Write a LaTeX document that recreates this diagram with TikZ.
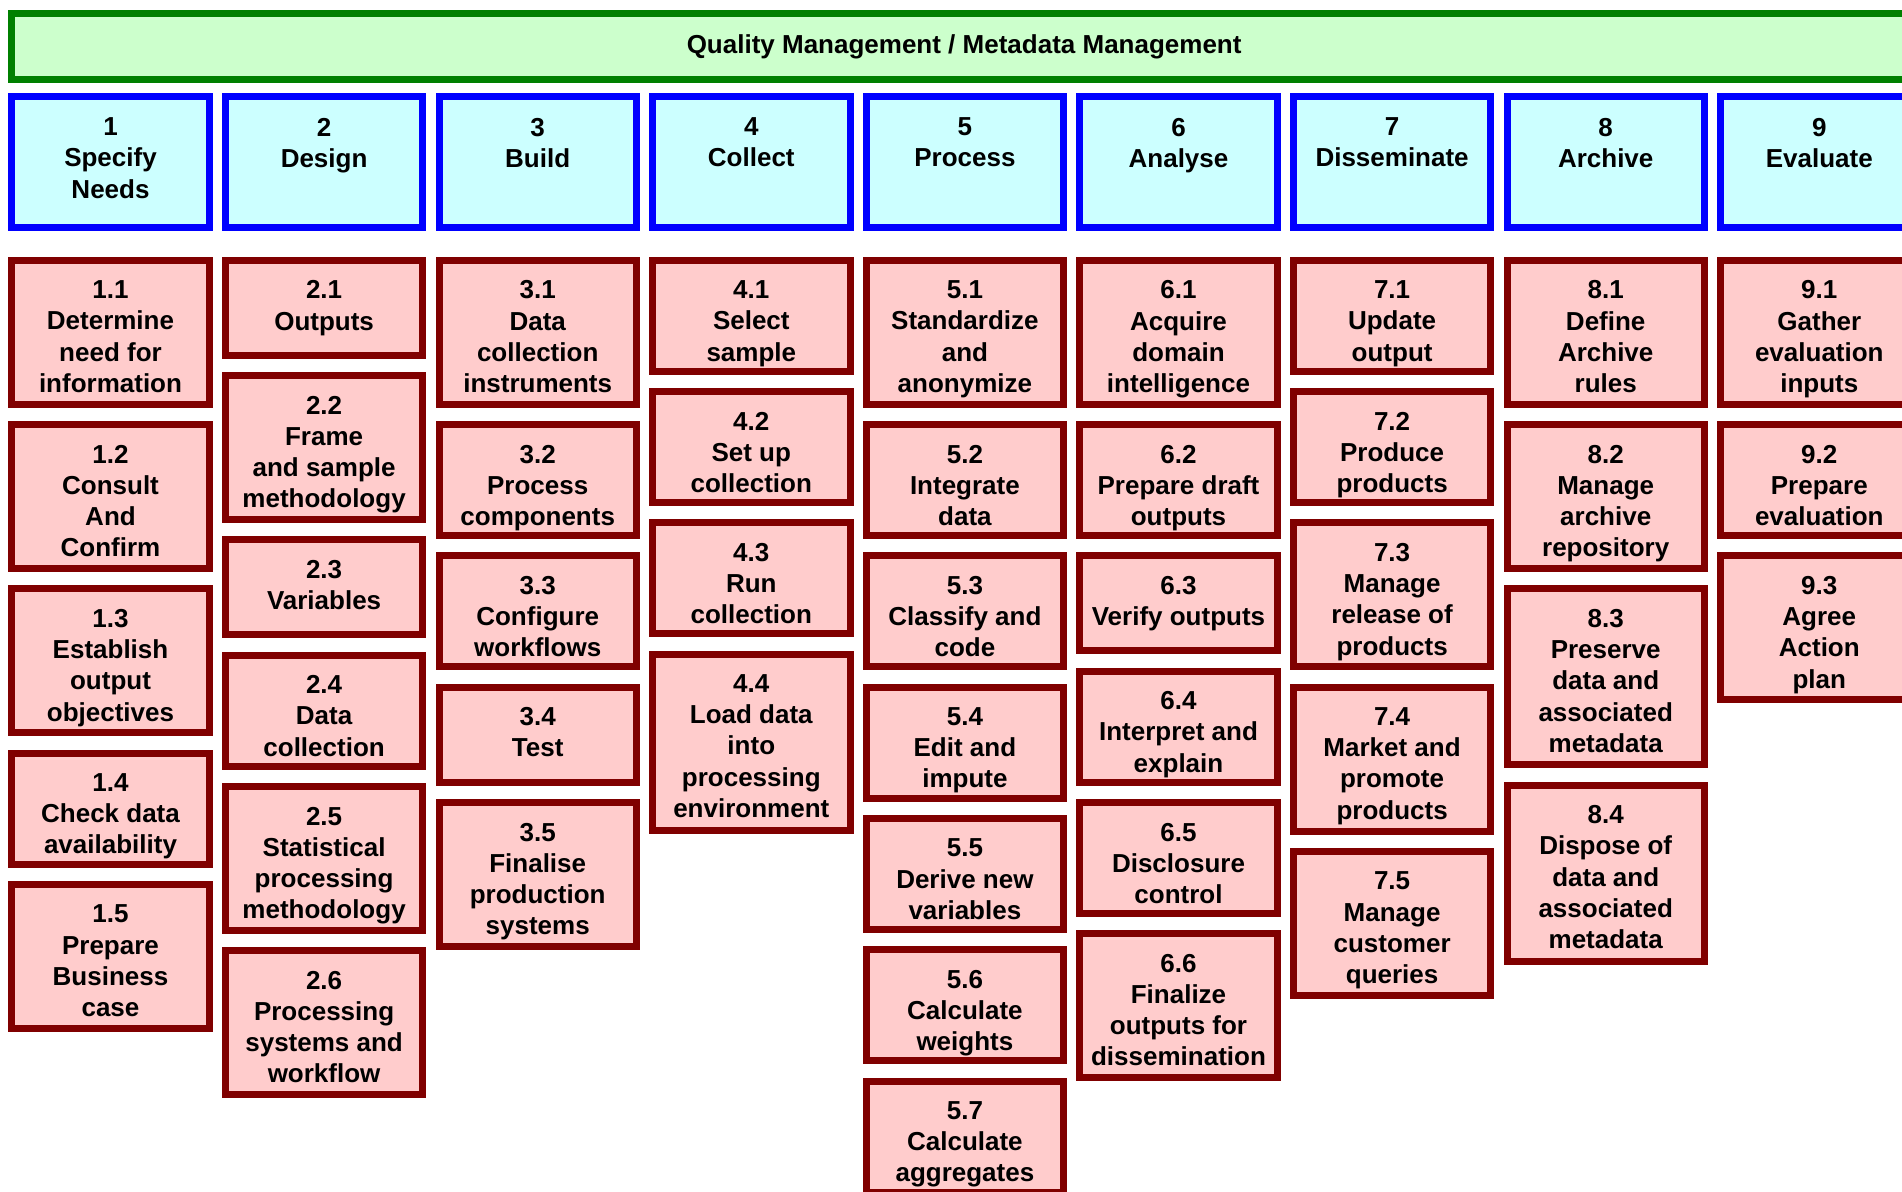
\documentclass[tikz,border=0pt]{standalone}
\usepackage{fontspec}
\setmainfont{Liberation Sans}
\usepackage{tikz}
\usetikzlibrary{positioning}

\definecolor{barfill}{HTML}{CCFFCC}
\definecolor{barline}{HTML}{008000}
\definecolor{phasefill}{HTML}{CCFFFF}
\definecolor{phaseline}{HTML}{0000FF}
\definecolor{subfill}{HTML}{FFCCCC}
\definecolor{subline}{HTML}{800000}

\begin{document}
\begin{tikzpicture}[x=0.5pt, y=-0.5pt,
    every node/.style={font=\fontsize{13}{15.6}\selectfont\bfseries, align=center, inner sep=0pt},
    txt/.style={anchor=north, yshift=-11.8pt},
    bar/.style={draw=barline, fill=barfill, line width=3.5pt, minimum width=952.35pt, minimum height=33pt},
    phase/.style={draw=phaseline, fill=phasefill, line width=3.5pt, minimum width=98.7pt, minimum height=65.5pt},
    subbox/.style={draw=subline, fill=subfill, line width=3.5pt, minimum width=98.7pt},
    sub2/.style={subbox, minimum height=47.5pt},
    sub3/.style={subbox, minimum height=55.5pt},
    sub4/.style={subbox, minimum height=72pt},
    sub5/.style={subbox, minimum height=88pt},
    node distance=6.65pt]

    \useasboundingbox (0,0) rectangle (1902,1191);
    \clip (0,0) rectangle (1902,1191);

    % Overarching process
    \node[bar, anchor=north west] (qm) at (8.3,10) {Quality Management / Metadata Management};

    % Phases
    \foreach \n/\name in {1/{Specify\\Needs}, 2/Design, 3/Build, 4/Collect,
        5/Process, 6/Analyse, 7/Disseminate, 8/Archive, 9/Evaluate} {
        \node[phase, anchor=north, label={[txt, yshift=-0.6pt]north:\n\\\name}] (p\n) at ({110.5+(\n-1)*213.6}, 92.7) {};
    }

    % 1 Specify Needs
    \node[sub4, below=13pt of p1, label={[txt]north:1.1\\Determine\\need for\\information}] (s11) {};
    \node[sub4, below=of s11, label={[txt]north:1.2\\Consult\\And\\Confirm}] (s12) {};
    \node[sub4, below=of s12, label={[txt]north:1.3\\Establish\\output\\objectives}] (s13) {};
    \node[sub3, below=of s13, label={[txt]north:1.4\\Check data\\availability}] (s14) {};
    \node[sub4, below=of s14, label={[txt]north:1.5\\Prepare\\Business\\case}] (s15) {};

    % 2 Design
    \node[sub2, below=13pt of p2, label={[txt]north:2.1\\Outputs}] (s21) {};
    \node[sub4, below=of s21, label={[txt]north:2.2\\Frame\\and sample\\methodology}] (s22) {};
    \node[sub2, below=of s22, label={[txt]north:2.3\\Variables}] (s23) {};
    \node[sub3, below=of s23, label={[txt]north:2.4\\Data\\collection}] (s24) {};
    \node[sub4, below=of s24, label={[txt]north:2.5\\Statistical\\processing\\methodology}] (s25) {};
    \node[sub4, below=of s25, label={[txt]north:2.6\\Processing\\systems and\\workflow}] (s26) {};

    % 3 Build
    \node[sub4, below=13pt of p3, label={[txt]north:3.1\\Data\\collection\\instruments}] (s31) {};
    \node[sub3, below=of s31, label={[txt]north:3.2\\Process\\components}] (s32) {};
    \node[sub3, below=of s32, label={[txt]north:3.3\\Configure\\workflows}] (s33) {};
    \node[sub2, below=of s33, label={[txt]north:3.4\\Test}] (s34) {};
    \node[sub4, below=of s34, label={[txt]north:3.5\\Finalise\\production\\systems}] (s35) {};

    % 4 Collect
    \node[sub3, below=13pt of p4, label={[txt]north:4.1\\Select\\sample}] (s41) {};
    \node[sub3, below=of s41, label={[txt]north:4.2\\Set up\\collection}] (s42) {};
    \node[sub3, below=of s42, label={[txt]north:4.3\\Run\\collection}] (s43) {};
    \node[sub5, below=of s43, label={[txt]north:4.4\\Load data\\into\\processing\\environment}] (s44) {};

    % 5 Process
    \node[sub4, below=13pt of p5, label={[txt]north:5.1\\Standardize\\and\\anonymize}] (s51) {};
    \node[sub3, below=of s51, label={[txt]north:5.2\\Integrate\\data}] (s52) {};
    \node[sub3, below=of s52, label={[txt]north:5.3\\Classify and\\code}] (s53) {};
    \node[sub3, below=of s53, label={[txt]north:5.4\\Edit and\\impute}] (s54) {};
    \node[sub3, below=of s54, label={[txt]north:5.5\\Derive new\\variables}] (s55) {};
    \node[sub3, below=of s55, label={[txt]north:5.6\\Calculate\\weights}] (s56) {};
    \node[sub3, below=of s56, label={[txt]north:5.7\\Calculate\\aggregates}] (s57) {};

    % 6 Analyse
    \node[sub4, below=13pt of p6, label={[txt]north:6.1\\Acquire\\domain\\intelligence}] (s61) {};
    \node[sub3, below=of s61, label={[txt]north:6.2\\Prepare draft\\outputs}] (s62) {};
    \node[sub2, below=of s62, label={[txt]north:6.3\\Verify outputs}] (s63) {};
    \node[sub3, below=of s63, label={[txt]north:6.4\\Interpret and\\explain}] (s64) {};
    \node[sub3, below=of s64, label={[txt]north:6.5\\Disclosure\\control}] (s65) {};
    \node[sub4, below=of s65, label={[txt]north:6.6\\Finalize\\outputs for\\dissemination}] (s66) {};

    % 7 Disseminate
    \node[sub3, below=13pt of p7, label={[txt]north:7.1\\Update\\output}] (s71) {};
    \node[sub3, below=of s71, label={[txt]north:7.2\\Produce\\products}] (s72) {};
    \node[sub4, below=of s72, label={[txt]north:7.3\\Manage\\release of\\products}] (s73) {};
    \node[sub4, below=of s73, label={[txt]north:7.4\\Market and\\promote\\products}] (s74) {};
    \node[sub4, below=of s74, label={[txt]north:7.5\\Manage\\customer\\queries}] (s75) {};

    % 8 Archive
    \node[sub4, below=13pt of p8, label={[txt]north:8.1\\Define\\Archive\\rules}] (s81) {};
    \node[sub4, below=of s81, label={[txt]north:8.2\\Manage\\archive\\repository}] (s82) {};
    \node[sub5, below=of s82, label={[txt]north:8.3\\Preserve\\data and\\associated\\metadata}] (s83) {};
    \node[sub5, below=of s83, label={[txt]north:8.4\\Dispose of\\data and\\associated\\metadata}] (s84) {};

    % 9 Evaluate
    \node[sub4, below=13pt of p9, label={[txt]north:9.1\\Gather\\evaluation\\inputs}] (s91) {};
    \node[sub3, below=of s91, label={[txt]north:9.2\\Prepare\\evaluation}] (s92) {};
    \node[sub4, below=of s92, label={[txt]north:9.3\\Agree\\Action\\plan}] (s93) {};
\end{tikzpicture}
\end{document}
